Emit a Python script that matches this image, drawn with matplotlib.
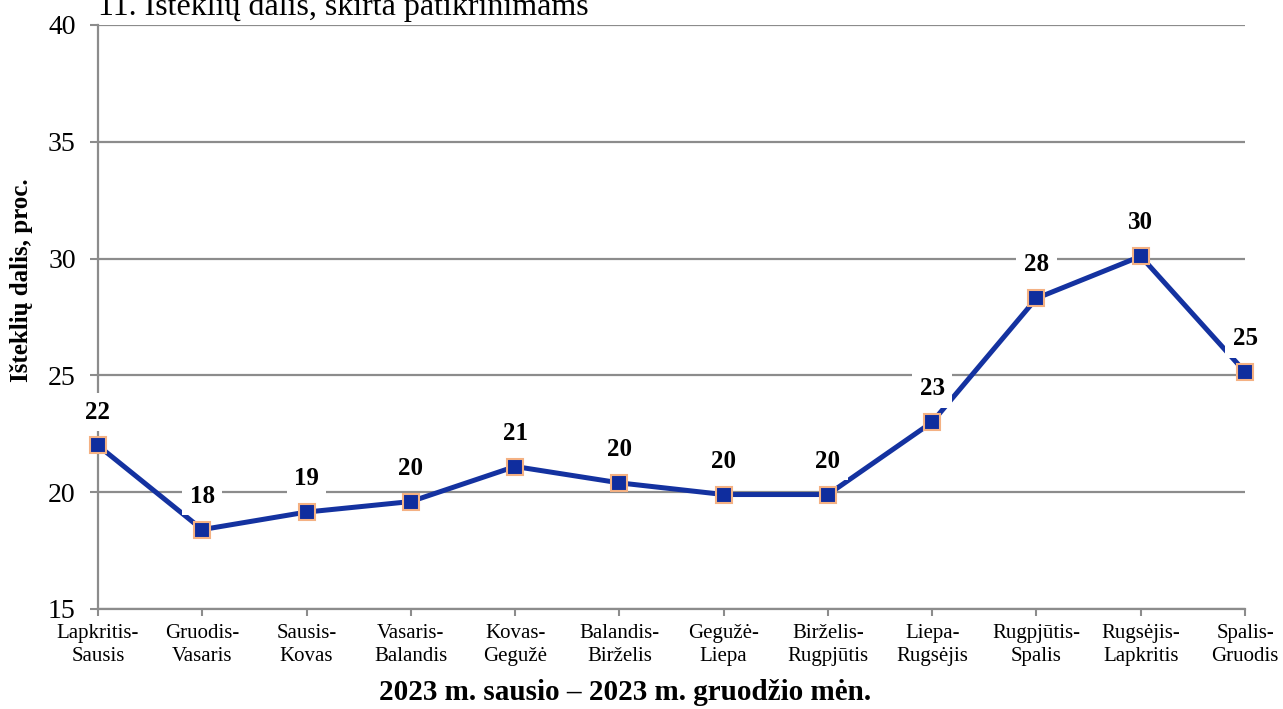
import matplotlib
matplotlib.use("Agg")
import matplotlib.pyplot as plt

categories = ["Lapkritis-\nSausis", "Gruodis-\nVasaris", "Sausis-\nKovas", "Vasaris-\nBalandis",
              "Kovas-\nGegužė", "Balandis-\nBirželis", "Gegužė-\nLiepa", "Birželis-\nRugpjūtis",
              "Liepa-\nRugsėjis", "Rugpjūtis-\nSpalis", "Rugsėjis-\nLapkritis", "Spalis-\nGruodis"]
values = [22.0, 18.4, 19.15, 19.6, 21.1, 20.4, 19.9, 19.9, 23.0, 28.3, 30.1, 25.15]
yticks = [15, 20, 25, 30, 35, 40]

plt.rcParams['font.family'] = ['Liberation Serif', 'DejaVu Serif']

fig = plt.figure(figsize=(12.83, 7.09), dpi=100)
ax = fig.add_axes([98/1283, 1-609/709, (1245-98)/1283, (609-25)/709])

x = list(range(len(values)))
ax.plot(x, values, color='#1432A0', lw=3.6, marker='s', markersize=12,
        markerfacecolor='#0F2D9E', markeredgecolor='#F4B183', markeredgewidth=1.5,
        clip_on=False, zorder=3)

for xi, v in zip(x, values):
    ax.annotate(f"{v:.0f}", (xi, v), xytext=(0, 24), textcoords='offset points',
                ha='center', va='center', fontsize=18, fontweight='bold',
                bbox=dict(boxstyle='square,pad=0.3', fc='white', ec='none'), zorder=4)

ax.set_xlim(0, len(values) - 1)
ax.set_ylim(15, 40)
ax.set_yticks(yticks)
ax.set_xticks(x)
ax.set_xticklabels(categories, fontsize=15, linespacing=1.3)
ax.tick_params(axis='y', labelsize=20, length=6, width=1.5, color='#8C8C8C', pad=10)
ax.tick_params(axis='x', length=5, width=1.5, color='#8C8C8C', pad=6)
ax.grid(axis='y', color='#8C8C8C', lw=1.6, zorder=1)
for s in ['top', 'right']:
    ax.spines[s].set_visible(False)
for s in ['left', 'bottom']:
    ax.spines[s].set_color('#8C8C8C')
    ax.spines[s].set_linewidth(1.6)

fig.text(22/1283, 1-280/709, "Išteklių dalis, proc.", fontsize=18, fontweight='bold',
         rotation=90, ha='center', va='center')
fig.text(625/1283, 1-693/709, "2023 m. sausio – 2023 m. gruodžio mėn.", fontsize=21,
         fontweight='bold', ha='center', va='center')
fig.text(98/1283, 1-15/709, "11. Išteklių dalis, skirta patikrinimams", fontsize=23,
         ha='left', va='baseline')

fig.savefig("out.png", dpi=100)
